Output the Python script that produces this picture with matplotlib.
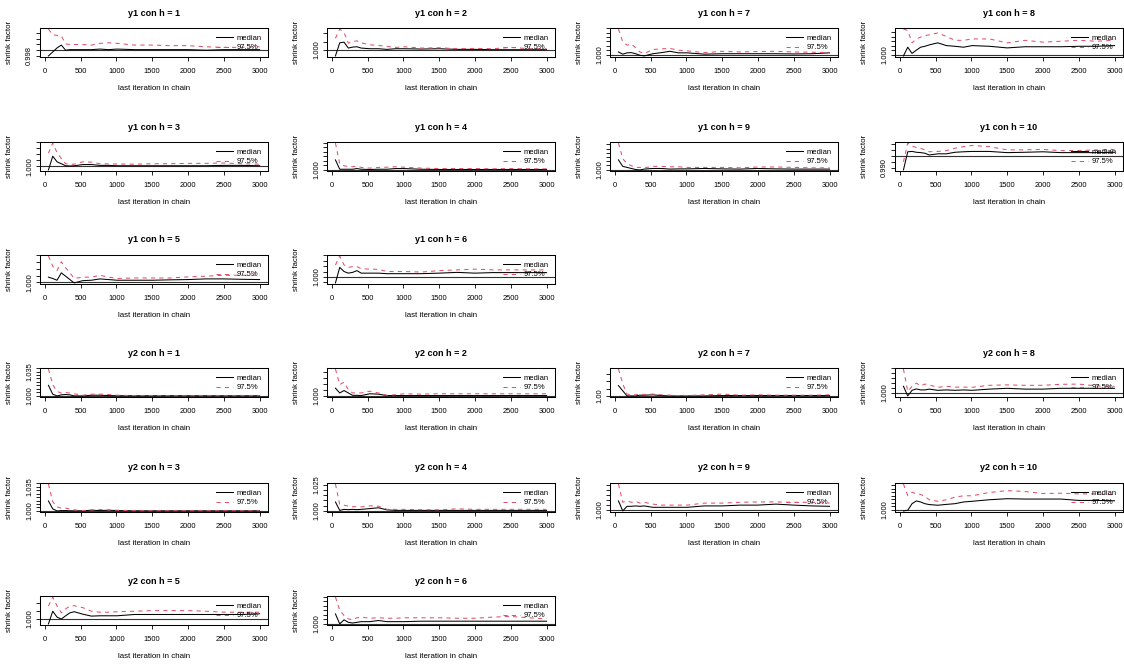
import numpy as np
import matplotlib
matplotlib.use("Agg")
import matplotlib.pyplot as plt
from matplotlib import transforms
from matplotlib.ticker import FixedLocator, FuncFormatter

plt.rcParams['font.family'] = ['Liberation Sans', 'DejaVu Sans']

# last iteration in chain (shared by every panel)
ITER = [50, 110, 170, 230, 290, 350, 410, 530, 650, 770, 890, 1010,
        1250, 1500, 1750, 2000, 2250, 2500, 2750, 3000]

Y1_H1_MED = [0.9980, 0.9994, 1.0008, 1.0018, 1.0000, 1.0002, 1.0002, 1.0002, 1.0002, 1.0004, 1.0002, 1.0004, 1.0002, 1.0002, 1.0002, 1.0002, 1.0000, 1.0002, 1.0002, 1.0002]
Y1_H1_UPP = [1.0074, 1.0054, 1.0052, 1.0050, 1.0022, 1.0020, 1.0020, 1.0020, 1.0018, 1.0024, 1.0026, 1.0024, 1.0018, 1.0018, 1.0016, 1.0016, 1.0012, 1.0010, 1.0010, 1.0012]
Y1_H2_MED = [0.9962, 1.0042, 1.0046, 1.0010, 1.0016, 1.0018, 1.0010, 1.0006, 1.0006, 1.0002, 1.0006, 1.0006, 1.0004, 1.0006, 1.0002, 1.0002, 1.0000, 1.0000, 1.0000, 1.0000]
Y1_H2_UPP = [1.0070, 1.0126, 1.0106, 1.0040, 1.0050, 1.0054, 1.0042, 1.0030, 1.0026, 1.0020, 1.0014, 1.0018, 1.0010, 1.0012, 1.0006, 1.0008, 1.0006, 1.0014, 1.0006, 1.0006]
Y1_H7_MED = [1.0012, 1.0002, 1.0008, 1.0009, 1.0004, 0.9997, 0.9994, 1.0004, 1.0009, 1.0015, 1.0008, 1.0008, 1.0002, 1.0004, 1.0004, 1.0004, 1.0004, 1.0003, 1.0004, 1.0008]
Y1_H7_UPP = [1.0116, 1.0058, 1.0043, 1.0048, 1.0031, 1.0012, 1.0005, 1.0023, 1.0026, 1.0028, 1.0020, 1.0017, 1.0009, 1.0015, 1.0012, 1.0014, 1.0015, 1.0012, 1.0011, 1.0009]
Y1_H8_MED = [0.9996, 1.0034, 1.0007, 1.0021, 1.0034, 1.0038, 1.0044, 1.0053, 1.0041, 1.0038, 1.0034, 1.0041, 1.0038, 1.0031, 1.0036, 1.0036, 1.0036, 1.0038, 1.0038, 1.0041]
Y1_H8_UPP = [1.0113, 1.0107, 1.0053, 1.0070, 1.0078, 1.0084, 1.0088, 1.0096, 1.0081, 1.0064, 1.0064, 1.0070, 1.0070, 1.0053, 1.0064, 1.0056, 1.0060, 1.0064, 1.0060, 1.0064]
Y1_H3_MED = [0.9970, 1.0085, 1.0038, 1.0022, 1.0005, 1.0003, 1.0005, 1.0015, 1.0015, 1.0008, 1.0008, 1.0005, 1.0005, 1.0005, 1.0005, 1.0005, 1.0005, 1.0008, 1.0008, 1.0005]
Y1_H3_UPP = [1.0110, 1.0195, 1.0115, 1.0065, 1.0022, 1.0018, 1.0018, 1.0038, 1.0035, 1.0022, 1.0020, 1.0020, 1.0018, 1.0022, 1.0022, 1.0025, 1.0025, 1.0028, 1.0022, 1.0018]
Y1_H4_MED = [1.0044, 1.0003, 1.0003, 1.0003, 1.0003, 1.0006, 1.0003, 1.0002, 1.0003, 1.0003, 1.0006, 1.0006, 1.0003, 1.0002, 1.0002, 1.0002, 1.0002, 1.0002, 1.0002, 1.0002]
Y1_H4_UPP = [1.0118, 1.0026, 1.0018, 1.0015, 1.0014, 1.0017, 1.0011, 1.0008, 1.0011, 1.0012, 1.0014, 1.0012, 1.0008, 1.0006, 1.0006, 1.0006, 1.0005, 1.0006, 1.0005, 1.0005]
Y1_H9_MED = [1.0046, 1.0015, 1.0010, 1.0005, 1.0000, 0.9998, 1.0002, 1.0005, 1.0005, 1.0002, 1.0003, 1.0003, 1.0005, 1.0003, 1.0002, 1.0005, 1.0003, 1.0002, 1.0002, 1.0002]
Y1_H9_UPP = [1.0126, 1.0052, 1.0027, 1.0018, 1.0010, 1.0010, 1.0008, 1.0015, 1.0015, 1.0013, 1.0013, 1.0010, 1.0010, 1.0010, 1.0008, 1.0012, 1.0012, 1.0010, 1.0008, 1.0008]
Y1_H10_MED = [0.9880, 1.0032, 1.0035, 1.0028, 1.0025, 1.0020, 1.0005, 1.0015, 1.0015, 1.0028, 1.0032, 1.0035, 1.0035, 1.0025, 1.0028, 1.0032, 1.0025, 1.0025, 1.0025, 1.0028]
Y1_H10_UPP = [0.9948, 1.0105, 1.0080, 1.0068, 1.0060, 1.0048, 1.0032, 1.0035, 1.0042, 1.0062, 1.0075, 1.0085, 1.0075, 1.0048, 1.0048, 1.0052, 1.0042, 1.0042, 1.0048, 1.0052]
Y1_H5_MED = [1.0038, 1.0028, 1.0015, 1.0070, 1.0045, 1.0020, 0.9995, 1.0012, 1.0015, 1.0025, 1.0020, 1.0015, 1.0015, 1.0015, 1.0018, 1.0020, 1.0025, 1.0025, 1.0022, 1.0020]
Y1_H5_UPP = [1.0195, 1.0120, 1.0088, 1.0152, 1.0108, 1.0070, 1.0028, 1.0038, 1.0038, 1.0052, 1.0038, 1.0028, 1.0032, 1.0032, 1.0032, 1.0040, 1.0045, 1.0052, 1.0052, 1.0052]
Y1_H6_MED = [0.9945, 1.0088, 1.0050, 1.0035, 1.0042, 1.0058, 1.0035, 1.0035, 1.0035, 1.0030, 1.0030, 1.0030, 1.0030, 1.0035, 1.0042, 1.0035, 1.0040, 1.0040, 1.0040, 1.0040]
Y1_H6_UPP = [1.0110, 1.0192, 1.0110, 1.0088, 1.0095, 1.0095, 1.0075, 1.0072, 1.0070, 1.0050, 1.0050, 1.0050, 1.0045, 1.0058, 1.0065, 1.0072, 1.0065, 1.0065, 1.0065, 1.0065]

Y2_H1_MED = [1.0152, 1.0025, 1.0000, 1.0015, 1.0020, 1.0015, 1.0000, 1.0000, 1.0010, 1.0010, 1.0005, 1.0003, 1.0002, 1.0002, 1.0003, 1.0002, 1.0002, 1.0002, 1.0002, 1.0002]
Y2_H1_UPP = [1.0385, 1.0162, 1.0065, 1.0040, 1.0050, 1.0040, 1.0030, 1.0010, 1.0025, 1.0025, 1.0020, 1.0010, 1.0005, 1.0004, 1.0004, 1.0003, 1.0003, 1.0003, 1.0003, 1.0003]
Y2_H2_MED = [1.0065, 1.0025, 1.0045, 1.0025, 1.0005, 1.0005, 1.0003, 1.0018, 1.0015, 1.0003, 1.0003, 1.0003, 1.0003, 1.0003, 1.0003, 1.0003, 1.0003, 1.0003, 1.0003, 1.0003]
Y2_H2_UPP = [1.0225, 1.0095, 1.0115, 1.0052, 1.0025, 1.0025, 1.0025, 1.0040, 1.0025, 1.0005, 1.0010, 1.0018, 1.0015, 1.0018, 1.0018, 1.0018, 1.0018, 1.0018, 1.0018, 1.0018]
Y2_H7_MED = [1.0140, 1.0070, 1.0000, 1.0000, 1.0000, 1.0010, 1.0010, 1.0015, 1.0005, 1.0000, 1.0000, 1.0000, 1.0000, 1.0005, 1.0005, 1.0005, 1.0005, 1.0005, 1.0005, 1.0005]
Y2_H7_UPP = [1.0365, 1.0165, 1.0025, 1.0015, 1.0015, 1.0025, 1.0020, 1.0025, 1.0015, 1.0010, 1.0005, 1.0005, 1.0015, 1.0025, 1.0010, 1.0015, 1.0010, 1.0010, 1.0010, 1.0015]
Y2_H8_MED = [1.0068, 0.9972, 1.0028, 1.0042, 1.0032, 1.0032, 1.0040, 1.0028, 1.0032, 1.0028, 1.0032, 1.0028, 1.0040, 1.0048, 1.0040, 1.0040, 1.0048, 1.0048, 1.0048, 1.0048]
Y2_H8_UPP = [1.0240, 1.0018, 1.0068, 1.0100, 1.0072, 1.0090, 1.0082, 1.0058, 1.0068, 1.0060, 1.0060, 1.0058, 1.0078, 1.0082, 1.0078, 1.0078, 1.0088, 1.0090, 1.0072, 1.0068]
Y2_H3_MED = [1.0145, 1.0030, 1.0000, 1.0005, 1.0005, 1.0002, 1.0002, 1.0002, 1.0010, 1.0005, 1.0010, 1.0005, 1.0002, 1.0002, 1.0002, 1.0002, 1.0002, 1.0002, 1.0002, 1.0002]
Y2_H3_UPP = [1.0390, 1.0135, 1.0058, 1.0040, 1.0040, 1.0030, 1.0015, 1.0005, 1.0015, 1.0020, 1.0015, 1.0010, 1.0003, 1.0003, 1.0003, 1.0003, 1.0003, 1.0003, 1.0003, 1.0003]
Y2_H4_MED = [1.0085, 1.0005, 1.0015, 1.0012, 1.0015, 1.0012, 1.0015, 1.0022, 1.0030, 1.0010, 1.0005, 1.0005, 1.0005, 1.0005, 1.0005, 1.0005, 1.0005, 1.0005, 1.0005, 1.0005]
Y2_H4_UPP = [1.0255, 1.0062, 1.0055, 1.0045, 1.0040, 1.0040, 1.0038, 1.0048, 1.0045, 1.0015, 1.0015, 1.0015, 1.0012, 1.0010, 1.0020, 1.0015, 1.0015, 1.0015, 1.0015, 1.0015]
Y2_H9_MED = [1.0092, 0.9992, 1.0038, 1.0038, 1.0042, 1.0038, 1.0042, 1.0028, 1.0028, 1.0028, 1.0028, 1.0028, 1.0042, 1.0042, 1.0050, 1.0050, 1.0060, 1.0050, 1.0042, 1.0038]
Y2_H9_UPP = [1.0260, 1.0078, 1.0092, 1.0078, 1.0088, 1.0070, 1.0078, 1.0060, 1.0050, 1.0050, 1.0050, 1.0050, 1.0070, 1.0070, 1.0078, 1.0082, 1.0082, 1.0078, 1.0078, 1.0070]
Y2_H10_MED = [0.9992, 0.9996, 1.0034, 1.0050, 1.0044, 1.0034, 1.0029, 1.0025, 1.0030, 1.0034, 1.0044, 1.0048, 1.0057, 1.0063, 1.0061, 1.0061, 1.0061, 1.0053, 1.0053, 1.0051]
Y2_H10_UPP = [1.0148, 1.0082, 1.0101, 1.0091, 1.0088, 1.0076, 1.0057, 1.0048, 1.0057, 1.0072, 1.0080, 1.0080, 1.0099, 1.0110, 1.0105, 1.0093, 1.0095, 1.0091, 1.0091, 1.0086]
Y2_H5_MED = [0.9970, 1.0048, 1.0012, 1.0000, 1.0020, 1.0038, 1.0045, 1.0030, 1.0018, 1.0020, 1.0020, 1.0020, 1.0028, 1.0028, 1.0028, 1.0028, 1.0028, 1.0028, 1.0028, 1.0032]
Y2_H5_UPP = [1.0080, 1.0135, 1.0080, 1.0038, 1.0062, 1.0080, 1.0082, 1.0070, 1.0048, 1.0042, 1.0042, 1.0045, 1.0048, 1.0052, 1.0052, 1.0052, 1.0048, 1.0042, 1.0042, 1.0042]
Y2_H6_MED = [1.0044, 1.0000, 1.0018, 1.0007, 1.0004, 1.0007, 1.0010, 1.0010, 1.0015, 1.0010, 1.0010, 1.0010, 1.0012, 1.0012, 1.0012, 1.0012, 1.0012, 1.0012, 1.0012, 1.0012]
Y2_H6_UPP = [1.0118, 1.0060, 1.0037, 1.0022, 1.0018, 1.0027, 1.0030, 1.0025, 1.0027, 1.0025, 1.0025, 1.0027, 1.0027, 1.0027, 1.0025, 1.0025, 1.0030, 1.0033, 1.0027, 1.0022]

# (row, col, title, median, 97.5%, y tick step, labelled ticks, label format)
PANELS = [
    (0, 0, "y1 con h = 1", Y1_H1_MED, Y1_H1_UPP, 0.002, [0.998], "%.3f"),
    (0, 1, "y1 con h = 2", Y1_H2_MED, Y1_H2_UPP, 0.005, [1.0], "%.3f"),
    (0, 2, "y1 con h = 7", Y1_H7_MED, Y1_H7_UPP, 0.002, [1.0], "%.3f"),
    (0, 3, "y1 con h = 8", Y1_H8_MED, Y1_H8_UPP, 0.002, [1.0], "%.3f"),
    (1, 0, "y1 con h = 3", Y1_H3_MED, Y1_H3_UPP, 0.005, [1.0], "%.3f"),
    (1, 1, "y1 con h = 4", Y1_H4_MED, Y1_H4_UPP, 0.002, [1.0], "%.3f"),
    (1, 2, "y1 con h = 9", Y1_H9_MED, Y1_H9_UPP, 0.002, [1.0], "%.3f"),
    (1, 3, "y1 con h = 10", Y1_H10_MED, Y1_H10_UPP, 0.005, [0.990], "%.3f"),
    (2, 0, "y1 con h = 5", Y1_H5_MED, Y1_H5_UPP, 0.005, [1.0], "%.3f"),
    (2, 1, "y1 con h = 6", Y1_H6_MED, Y1_H6_UPP, 0.005, [1.0], "%.3f"),
    (3, 0, "y2 con h = 1", Y2_H1_MED, Y2_H1_UPP, 0.005, [1.0, 1.035], "%.3f"),
    (3, 1, "y2 con h = 2", Y2_H2_MED, Y2_H2_UPP, 0.005, [1.0], "%.3f"),
    (3, 2, "y2 con h = 7", Y2_H7_MED, Y2_H7_UPP, 0.01, [1.0], "%.2f"),
    (3, 3, "y2 con h = 8", Y2_H8_MED, Y2_H8_UPP, 0.005, [1.0], "%.3f"),
    (4, 0, "y2 con h = 3", Y2_H3_MED, Y2_H3_UPP, 0.005, [1.0, 1.035], "%.3f"),
    (4, 1, "y2 con h = 4", Y2_H4_MED, Y2_H4_UPP, 0.005, [1.0, 1.025], "%.3f"),
    (4, 2, "y2 con h = 9", Y2_H9_MED, Y2_H9_UPP, 0.005, [1.0], "%.3f"),
    (4, 3, "y2 con h = 10", Y2_H10_MED, Y2_H10_UPP, 0.002, [1.0], "%.3f"),
    (5, 0, "y2 con h = 5", Y2_H5_MED, Y2_H5_UPP, 0.005, [1.0], "%.3f"),
    (5, 1, "y2 con h = 6", Y2_H6_MED, Y2_H6_UPP, 0.002, [1.0], "%.3f"),
]

W, H = 1124, 666
COL_LEFT = [40, 327, 610, 895]
ROW_TOP = [28, 142, 255, 368, 483, 596]
BOX_W, BOX_H = 228, 29
RED = "#DF536B"


def r_range(lo, hi):
    pad = 0.04 * (hi - lo)
    return lo - pad, hi + pad


def draw_panel(fig, row, col, title, med, upp, step, labelled, fmt):
    left = COL_LEFT[col]
    top = ROW_TOP[row]
    ax = fig.add_axes([left / W, 1 - (top + BOX_H) / H, BOX_W / W, BOX_H / H])

    ax.plot(ITER, med, color="black", lw=0.75, label="median")
    ax.plot(ITER, upp, color=RED, lw=0.75, ls=(0, (4, 4)), label="97.5%")
    ax.axhline(1.0, color="#333333", lw=0.8, zorder=1)

    ax.set_xlim(*r_range(min(ITER), max(ITER)))
    lo = min(1.0, min(med), min(upp))
    hi = max(max(med), max(upp))
    y0, y1 = r_range(lo, hi)
    ax.set_ylim(y0, y1)

    ax.set_xticks([0, 500, 1000, 1500, 2000, 2500, 3000])
    k0 = int(np.ceil(y0 / step - 1e-9))
    k1 = int(np.floor(y1 / step + 1e-9))
    ticks = [round(k * step, 6) for k in range(k0, k1 + 1)]
    ax.yaxis.set_major_locator(FixedLocator(ticks))

    def fmt_y(v, pos):
        for lv in labelled:
            if abs(v - lv) < step / 10:
                return fmt % lv
        return ""
    ax.yaxis.set_major_formatter(FuncFormatter(fmt_y))

    ax.tick_params(axis="both", direction="out", length=3, width=0.6,
                   labelsize=5.4, colors="black")
    ax.tick_params(axis="x", pad=4.8)
    ax.tick_params(axis="y", pad=2.0)
    for lab in ax.get_yticklabels():
        lab.set_rotation(90)
        lab.set_va("center")
    for s in ax.spines.values():
        s.set_linewidth(0.75)

    ax.set_title(title, fontsize=6.5, fontweight="bold", pad=9)
    ax.set_xlabel("last iteration in chain", fontsize=5.7)
    ax.set_ylabel("shrink factor", fontsize=5.7)
    ax.xaxis.set_label_coords(0.5, 0, transform=transforms.offset_copy(
        ax.transAxes, fig=fig, x=0, y=-28, units="dots"))
    ax.yaxis.set_label_coords(0, 0.5, transform=transforms.offset_copy(
        ax.transAxes, fig=fig, x=-27, y=0, units="dots"))

    ax.legend(loc="upper right", frameon=False, fontsize=5.5,
              handlelength=2.2, handletextpad=0.5, borderaxespad=0.55,
              borderpad=0.3, labelspacing=0.3)
    return ax


fig = plt.figure(figsize=(W / 100, H / 100), dpi=100)
for p in PANELS:
    draw_panel(fig, *p)

fig.savefig("out.png", dpi=100)
